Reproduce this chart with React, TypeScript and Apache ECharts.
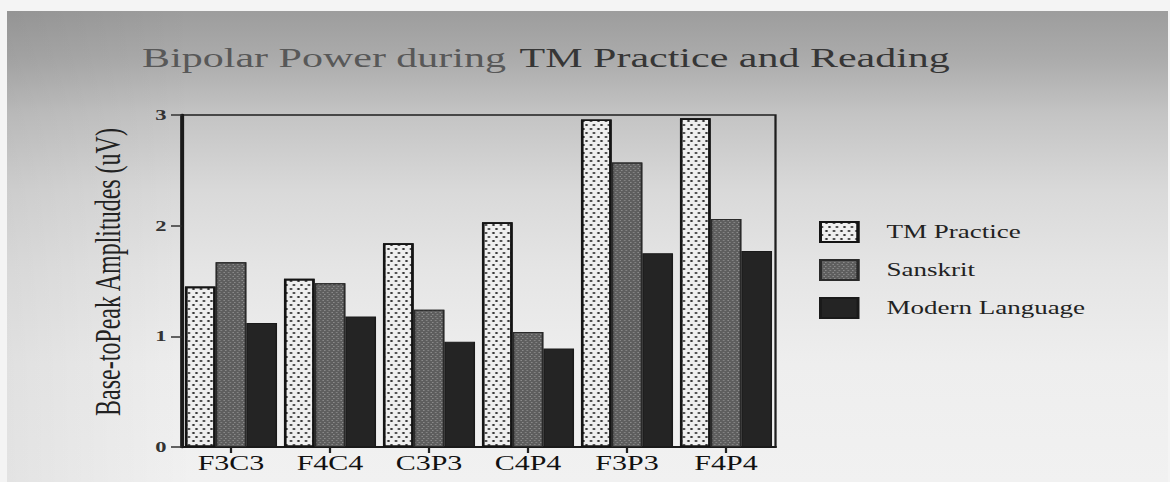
import React, { useEffect, useRef } from "react";
import * as echarts from "echarts";

const categories = ["F3C3", "F4C4", "C3P3", "C4P4", "F3P3", "F4P4"];
const seriesNames = ["TM Practice", "Sanskrit", "Modern Language"];
const tmPractice = [1.45, 1.52, 1.84, 2.03, 2.96, 2.97];
const sanskrit = [1.67, 1.48, 1.24, 1.04, 2.57, 2.06];
const modernLanguage = [1.12, 1.18, 0.95, 0.89, 1.75, 1.77];
const yMin = 0;
const yMax = 3;
const yStep = 1;
const titleA = "Bipolar Power during";
const titleB = "TM Practice and Reading";
const yAxisName = "Base-toPeak Amplitudes (uV)";

const W = 1170;
const H = 482;
const STRETCH = 1.5;

export default function App() {
  const ref = useRef<HTMLDivElement>(null);

  useEffect(() => {
    if (!ref.current) return;
    const chart = echarts.init(ref.current, null, { renderer: "svg" });
    const font = "Liberation Serif";

    chart.setOption({
      animation: false,
      textStyle: { fontFamily: font },
      graphic: [
        {
          type: "text",
          x: 364,
          y: 58,
          style: {
            text: "{a|" + titleA + "}{s| }{b|" + titleB + "}",
            align: "center",
            verticalAlign: "middle",
            rich: {
              a: { fontFamily: font, fontSize: 28, fill: "#585858" },
              s: { fontFamily: font, fontSize: 28, width: 9 },
              b: { fontFamily: font, fontSize: 28, fill: "#363636" },
            },
          },
        },
      ],
      grid: {
        left: 121,
        top: 115,
        width: 396,
        height: 332,
        containLabel: false,
        outerBoundsMode: "none",
        show: true,
        borderColor: "#1e1e1e",
        borderWidth: 1.5,
        backgroundColor: "transparent",
      },
      legend: {
        orient: "vertical",
        left: 541,
        top: 216,
        icon: "rect",
        itemWidth: 25,
        itemHeight: 20,
        itemGap: 16,
        selectedMode: false,
        data: seriesNames,
        textStyle: {
          fontFamily: font,
          fontSize: 18,
          color: "#222",
          padding: [0, 0, 0, 14],
        },
      },
      xAxis: {
        type: "category",
        data: categories,
        axisLine: { lineStyle: { color: "#1a1a1a", width: 2 } },
        axisTick: {
          show: true,
          alignWithLabel: true,
          length: 6,
          lineStyle: { color: "#222", width: 1.5 },
        },
        axisLabel: {
          fontFamily: font,
          fontSize: 20,
          color: "#111",
          margin: 6,
        },
      },
      yAxis: {
        type: "value",
        min: yMin,
        max: yMax,
        interval: yStep,
        name: yAxisName,
        nameLocation: "middle",
        nameGap: 37,
        nameTextStyle: {
          fontFamily: font,
          fontSize: 24,
          color: "#222",
          padding: [0, 0, 0, 18],
        },
        axisLine: { show: true, lineStyle: { color: "#1a1a1a", width: 2.5 } },
        axisTick: { show: true, length: 7, lineStyle: { color: "#333", width: 1.5 } },
        axisLabel: {
          fontFamily: font,
          fontSize: 15,
          fontWeight: "bold",
          color: "#333",
          margin: 10,
        },
        splitLine: { show: false },
      },
      series: [
        {
          name: seriesNames[0],
          type: "bar",
          data: tmPractice,
          barGap: "0%",
          barCategoryGap: "7%",
          itemStyle: {
            color: "#efefef",
            borderColor: "#141414",
            borderWidth: 1.6,
            decal: {
              symbol: "circle",
              symbolSize: 1,
              color: "rgba(20,20,20,0.9)",
              dashArrayX: [
                [2, 3],
                [0, 3, 2, 0],
              ],
              dashArrayY: [2, 2],
            },
          },
        },
        {
          name: seriesNames[1],
          type: "bar",
          data: sanskrit,
          barGap: "0%",
          barCategoryGap: "7%",
          itemStyle: {
            color: "#5e5e5e",
            borderColor: "#2a2a2a",
            borderWidth: 1,
            decal: {
              symbol: "rect",
              symbolSize: 1,
              color: "rgba(205,205,205,0.4)",
              dashArrayX: [
                [1, 2],
                [0, 2, 1, 0],
              ],
              dashArrayY: [1, 1],
            },
          },
        },
        {
          name: seriesNames[2],
          type: "bar",
          data: modernLanguage,
          barGap: "0%",
          barCategoryGap: "7%",
          itemStyle: {
            color: "#242424",
            borderColor: "#1a1a1a",
            borderWidth: 1,
          },
        },
      ],
    });

    return () => chart.dispose();
  }, []);

  return (
    <div
      style={{
        position: "fixed",
        left: 0,
        top: 0,
        width: W,
        height: H,
        overflow: "hidden",
        background: "#f4f4f4",
      }}
    >
      <div
        style={{
          position: "absolute",
          left: 7,
          top: 11,
          width: 1161,
          height: H - 11,
          background:
            "linear-gradient(to right, rgba(0,0,0,0.06) 0%, rgba(0,0,0,0) 16%), linear-gradient(to bottom, #9d9d9d 0%, #ababab 10%, #c4c4c4 22%, #d9d9d9 38%, #e5e5e5 55%, #eeeeee 75%, #f1f1f1 100%)",
        }}
      />
      <div
        ref={ref}
        style={{
          position: "absolute",
          left: 0,
          top: 0,
          width: W / STRETCH,
          height: H,
          transform: `scaleX(${STRETCH})`,
          transformOrigin: "0 0",
        }}
      />
    </div>
  );
}
